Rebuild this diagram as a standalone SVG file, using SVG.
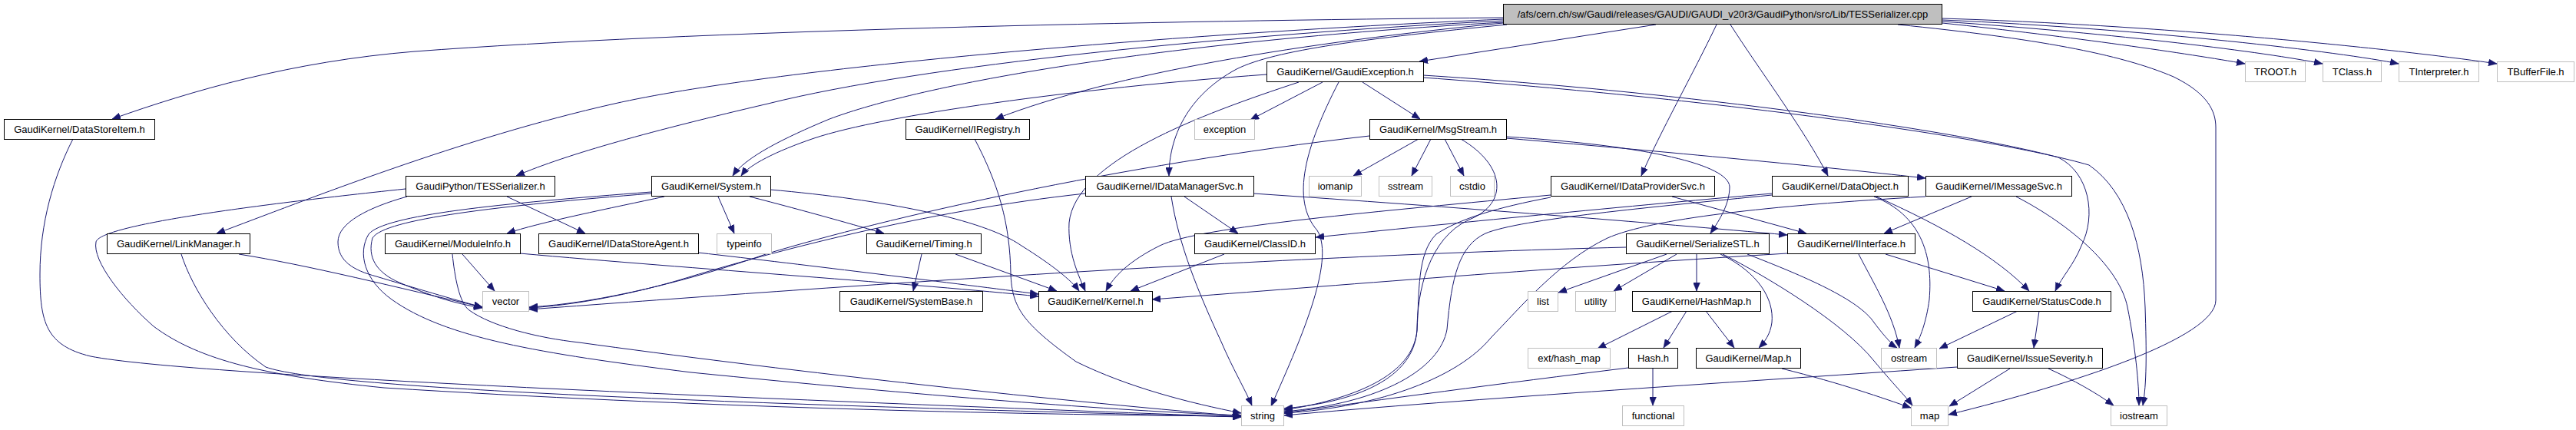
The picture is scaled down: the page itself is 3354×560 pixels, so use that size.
<svg xmlns="http://www.w3.org/2000/svg" width="3354" height="560" viewBox="0 0 3354 560">
<style>
text{font-family:"Liberation Sans",Arial,sans-serif;font-size:13px;text-anchor:middle;fill:#000}
.n rect{fill:#fff;stroke:#000;stroke-width:1}
.g rect{fill:#fff;stroke:#bfbfbf;stroke-width:1}
.r rect{fill:#bfbfbf;stroke:#000;stroke-width:1}
#edges path{fill:none;stroke:#191970;stroke-width:1;marker-end:url(#a)}
</style>
<defs>
<marker id="a" markerUnits="userSpaceOnUse" markerWidth="11" markerHeight="9" refX="11" refY="4.5" orient="auto"><path d="M0,0 L11,4.5 L0,9 z" fill="#191970" stroke="#191970" stroke-width="0.5"/></marker>
</defs>
<rect width="3354" height="560" fill="#fff"/>
<g id="edges">
<path d="M1957,23 C1500,27 900,40 540,67 C380,80 250,118 146,155"/>
<path d="M1957,25 C1500,45 1000,90 800,135 C600,180 400,260 282,304"/>
<path d="M1957,27 C1600,45 1200,85 1000,135 C850,170 740,200 672,229"/>
<path d="M1957,29 C1500,55 1200,110 1080,155 C1020,180 970,205 954,229"/>
<path d="M1957,30 C1700,55 1450,95 1296,155"/>
<path d="M1962,32 C1780,50 1660,65 1610,90 C1545,125 1522,180 1522,229"/>
<path d="M2156,32 L1848,80"/>
<path d="M2235,32 C2205,95 2160,175 2137,229"/>
<path d="M2253,32 C2290,90 2350,170 2380,229"/>
<path d="M2529,30 C2700,48 2850,70 2923,83"/>
<path d="M2529,28 C2760,44 2950,68 3024,83"/>
<path d="M2529,26 C2800,38 3050,68 3123,83"/>
<path d="M2529,24 C2850,34 3150,68 3251,83"/>
<path d="M2471,32 C2650,50 2760,70 2830,100 C2875,122 2885,145 2885,166 L2885,391 C2885,440 2700,500 2537,540"/>
<path d="M1722,107 L1628,156"/>
<path d="M1743,107 C1700,190 1680,260 1715,300 C1740,340 1690,450 1655,529"/>
<path d="M1691,107 C1560,150 1400,210 1392,290 C1390,330 1405,360 1413,379"/>
<path d="M1774,107 L1849,155"/>
<path d="M1649,97 C1400,115 1150,150 1060,180 C1010,197 975,215 965,229"/>
<path d="M1853,98 C2200,120 2550,170 2680,205 C2720,225 2730,280 2710,320 C2700,345 2685,360 2676,379"/>
<path d="M1853,101 C2250,130 2600,180 2720,215 C2770,250 2790,320 2793,400 C2795,460 2795,500 2790,528"/>
<path d="M1847,181 L1762,229"/>
<path d="M1863,181 L1838,229"/>
<path d="M1881,181 L1906,229"/>
<path d="M1902,181 C1960,215 1965,265 1913,286 C1860,310 1845,380 1845,430 C1840,500 1750,525 1672,532"/>
<path d="M1783,177 C1450,215 1150,285 1000,330 C900,365 780,395 689,400"/>
<path d="M1961,178 C2150,190 2250,215 2252,243 C2252,265 2240,285 2227,304"/>
<path d="M1961,180 C2200,200 2400,220 2507,232"/>
<path d="M1542,256 L1612,304"/>
<path d="M1525,256 C1535,320 1560,380 1590,445 C1605,480 1620,505 1630,528"/>
<path d="M1413,252 C1200,275 1000,330 900,360 C820,385 740,398 689,401"/>
<path d="M1632,252 C1900,270 2150,290 2327,306"/>
<path d="M2019,254 C1800,275 1560,295 1510,320 C1470,340 1450,360 1440,379"/>
<path d="M2019,257 C1950,270 1900,285 1870,305 C1845,330 1848,380 1845,430 C1840,490 1760,520 1672,534"/>
<path d="M2177,256 L2352,304"/>
<path d="M2307,252 C2100,270 1850,295 1713,309"/>
<path d="M2307,254 C2150,270 1980,285 1934,304 C1900,320 1890,360 1884,429 C1875,480 1800,525 1672,536"/>
<path d="M2440,256 C2500,280 2517,330 2512,390 C2508,420 2500,440 2493,453"/>
<path d="M2443,256 C2530,295 2600,335 2642,379"/>
<path d="M2567,256 L2453,304"/>
<path d="M2625,256 C2700,295 2760,350 2770,400 C2780,450 2785,500 2785,528"/>
<path d="M2507,256 C2300,268 2150,285 2093,310 C2030,340 1980,400 1941,440 C1900,490 1800,530 1672,538"/>
<path d="M2327,330 C2000,350 1700,375 1500,390"/>
<path d="M2455,331 L2610,379"/>
<path d="M2420,331 C2440,370 2465,410 2473,453"/>
<path d="M2627,405 L2525,454"/>
<path d="M2655,405 L2648,453"/>
<path d="M2617,480 L2538,529"/>
<path d="M2548,478 C2300,495 1900,520 1672,541"/>
<path d="M2667,480 C2700,495 2730,512 2752,528"/>
<path d="M2320,480 C2400,500 2450,518 2488,531"/>
<path d="M2170,331 L2029,381"/>
<path d="M2183,331 L2101,379"/>
<path d="M2209,331 L2209,379"/>
<path d="M2240,331 C2290,355 2310,390 2307,420 C2305,435 2298,445 2290,453"/>
<path d="M2275,331 C2350,360 2420,390 2440,420 C2455,440 2465,450 2470,453"/>
<path d="M2243,331 C2300,360 2400,420 2440,470 C2465,500 2480,515 2490,528"/>
<path d="M2117,322 C1600,335 1000,380 689,403"/>
<path d="M2178,405 L2080,454"/>
<path d="M2196,405 L2166,453"/>
<path d="M2221,405 L2258,453"/>
<path d="M2152,480 L2152,528"/>
<path d="M2120,479 C1950,500 1800,520 1672,538"/>
<path d="M1594,331 L1472,379"/>
<path d="M1200,331 L1189,379"/>
<path d="M1244,331 L1376,379"/>
<path d="M865,256 C800,270 700,290 660,304"/>
<path d="M935,256 L956,304"/>
<path d="M1003,247 C1150,260 1280,285 1330,320 C1370,345 1395,365 1405,379"/>
<path d="M976,256 C1050,275 1120,295 1151,304"/>
<path d="M848,250 C650,265 500,280 480,305 C465,330 475,365 510,390 C580,440 700,460 900,485 C1200,515 1450,535 1616,541"/>
<path d="M848,252 C650,268 500,285 485,310 C478,335 490,355 520,368 C560,385 590,395 628,401"/>
<path d="M660,256 L762,304"/>
<path d="M528,246 C300,270 130,295 125,315 C120,340 160,390 200,425 C260,470 350,490 500,505 C900,530 1300,540 1616,542"/>
<path d="M530,256 C480,270 440,290 440,315 C440,340 460,352 490,360 C540,375 590,390 628,400"/>
<path d="M311,331 C400,345 520,375 628,400"/>
<path d="M236,331 C250,375 290,440 346,478 C420,505 900,525 1616,543"/>
<path d="M95,181 C70,230 52,290 52,357 C52,420 60,450 118,464 C250,490 1000,520 1616,543"/>
<path d="M677,330 C900,350 1200,370 1352,386"/>
<path d="M602,331 L644,379"/>
<path d="M589,331 C592,360 598,395 611,404 C640,425 700,440 754,446 C1000,480 1350,520 1616,542"/>
<path d="M909,329 C1050,345 1250,370 1352,383"/>
<path d="M1269,181 C1300,240 1315,290 1316,357 C1318,400 1330,420 1401,471 C1470,505 1550,525 1616,538"/>
</g>
<g id="n0" class="r"><rect x="1957.5" y="5.5" width="571" height="26"/><text x="2243" y="23">/afs/cern.ch/sw/Gaudi/releases/GAUDI/GAUDI_v20r3/GaudiPython/src/Lib/TESSerializer.cpp</text></g>
<g id="n1" class="n"><rect x="528.5" y="229.5" width="194" height="26"/><text x="625.5" y="247">GaudiPython/TESSerializer.h</text></g>
<g id="n2" class="n"><rect x="5.5" y="155.5" width="196" height="26"/><text x="103.5" y="173">GaudiKernel/DataStoreItem.h</text></g>
<g id="n3" class="n"><rect x="139.5" y="304.5" width="186" height="26"/><text x="232.5" y="322">GaudiKernel/LinkManager.h</text></g>
<g id="n4" class="n"><rect x="848.5" y="229.5" width="155" height="26"/><text x="926" y="247">GaudiKernel/System.h</text></g>
<g id="n5" class="n"><rect x="501.5" y="304.5" width="176" height="26"/><text x="589.5" y="322">GaudiKernel/ModuleInfo.h</text></g>
<g id="n6" class="n"><rect x="701.5" y="304.5" width="208" height="26"/><text x="805.5" y="322">GaudiKernel/IDataStoreAgent.h</text></g>
<g id="n7" class="g"><rect x="933.5" y="304.5" width="71" height="26"/><text x="969" y="322">typeinfo</text></g>
<g id="n8" class="g"><rect x="628.5" y="379.5" width="60" height="26"/><text x="658.5" y="397">vector</text></g>
<g id="n9" class="n"><rect x="1179.5" y="155.5" width="161" height="26"/><text x="1260" y="173">GaudiKernel/IRegistry.h</text></g>
<g id="n10" class="g"><rect x="1555.5" y="155.5" width="78" height="26"/><text x="1594.5" y="173">exception</text></g>
<g id="n11" class="n"><rect x="1413.5" y="229.5" width="219" height="26"/><text x="1523" y="247">GaudiKernel/IDataManagerSvc.h</text></g>
<g id="n12" class="n"><rect x="1128.5" y="304.5" width="149" height="26"/><text x="1203" y="322">GaudiKernel/Timing.h</text></g>
<g id="n13" class="n"><rect x="1093.5" y="379.5" width="186" height="26"/><text x="1186.5" y="397">GaudiKernel/SystemBase.h</text></g>
<g id="n14" class="n"><rect x="1352.5" y="379.5" width="148" height="26"/><text x="1426.5" y="397">GaudiKernel/Kernel.h</text></g>
<g id="n15" class="n"><rect x="1555.5" y="304.5" width="157" height="26"/><text x="1634" y="322">GaudiKernel/ClassID.h</text></g>
<g id="n16" class="g"><rect x="1616.5" y="528.5" width="55" height="26"/><text x="1644" y="546">string</text></g>
<g id="n17" class="n"><rect x="1649.5" y="80.5" width="204" height="26"/><text x="1751.5" y="98">GaudiKernel/GaudiException.h</text></g>
<g id="n18" class="n"><rect x="1783.5" y="155.5" width="178" height="26"/><text x="1872.5" y="173">GaudiKernel/MsgStream.h</text></g>
<g id="n19" class="g"><rect x="1704.5" y="229.5" width="68" height="26"/><text x="1738.5" y="247">iomanip</text></g>
<g id="n20" class="g"><rect x="1795.5" y="229.5" width="69" height="26"/><text x="1830" y="247">sstream</text></g>
<g id="n21" class="g"><rect x="1888.5" y="229.5" width="57" height="26"/><text x="1917" y="247">cstdio</text></g>
<g id="n22" class="n"><rect x="2019.5" y="229.5" width="213" height="26"/><text x="2126" y="247">GaudiKernel/IDataProviderSvc.h</text></g>
<g id="n23" class="n"><rect x="2117.5" y="304.5" width="186" height="26"/><text x="2210.5" y="322">GaudiKernel/SerializeSTL.h</text></g>
<g id="n24" class="g"><rect x="1989.5" y="379.5" width="39" height="26"/><text x="2009" y="397">list</text></g>
<g id="n25" class="g"><rect x="2051.5" y="379.5" width="52" height="26"/><text x="2077.5" y="397">utility</text></g>
<g id="n26" class="n"><rect x="2125.5" y="379.5" width="167" height="26"/><text x="2209" y="397">GaudiKernel/HashMap.h</text></g>
<g id="n27" class="g"><rect x="1989.5" y="453.5" width="107" height="26"/><text x="2043" y="471">ext/hash_map</text></g>
<g id="n28" class="n"><rect x="2120.5" y="453.5" width="64" height="26"/><text x="2152.5" y="471">Hash.h</text></g>
<g id="n29" class="g"><rect x="2112.5" y="528.5" width="80" height="26"/><text x="2152.5" y="546">functional</text></g>
<g id="n30" class="n"><rect x="2307.5" y="229.5" width="177" height="26"/><text x="2396" y="247">GaudiKernel/DataObject.h</text></g>
<g id="n31" class="n"><rect x="2507.5" y="229.5" width="190" height="26"/><text x="2602.5" y="247">GaudiKernel/IMessageSvc.h</text></g>
<g id="n32" class="n"><rect x="2327.5" y="304.5" width="166" height="26"/><text x="2410.5" y="322">GaudiKernel/IInterface.h</text></g>
<g id="n33" class="n"><rect x="2568.5" y="379.5" width="180" height="26"/><text x="2658.5" y="397">GaudiKernel/StatusCode.h</text></g>
<g id="n34" class="n"><rect x="2208.5" y="453.5" width="136" height="26"/><text x="2276.5" y="471">GaudiKernel/Map.h</text></g>
<g id="n35" class="g"><rect x="2449.5" y="453.5" width="72" height="26"/><text x="2485.5" y="471">ostream</text></g>
<g id="n36" class="n"><rect x="2548.5" y="453.5" width="189" height="26"/><text x="2643" y="471">GaudiKernel/IssueSeverity.h</text></g>
<g id="n37" class="g"><rect x="2488.5" y="528.5" width="48" height="26"/><text x="2512.5" y="546">map</text></g>
<g id="n38" class="g"><rect x="2748.5" y="528.5" width="73" height="26"/><text x="2785" y="546">iostream</text></g>
<g id="n39" class="g"><rect x="2923.5" y="80.5" width="78" height="26"/><text x="2962.5" y="98">TROOT.h</text></g>
<g id="n40" class="g"><rect x="3024.5" y="80.5" width="76" height="26"/><text x="3062.5" y="98">TClass.h</text></g>
<g id="n41" class="g"><rect x="3123.5" y="80.5" width="104" height="26"/><text x="3175.5" y="98">TInterpreter.h</text></g>
<g id="n42" class="g"><rect x="3251.5" y="80.5" width="100" height="26"/><text x="3301.5" y="98">TBufferFile.h</text></g>
</svg>
